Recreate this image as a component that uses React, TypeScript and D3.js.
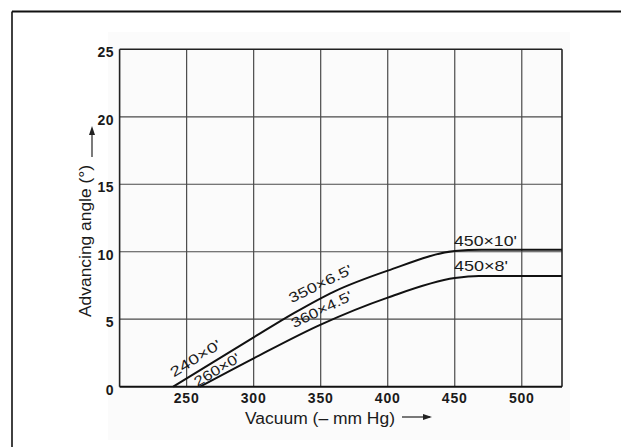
import React from "react";
import * as d3 from "d3";

const xTicks = [250, 300, 350, 400, 450, 500];
const yTicks = [0, 5, 10, 15, 20, 25];
const xDomain = [200, 530];
const yDomain = [0, 25];

// upper curve (240x0' -> 350x6.5' -> 450x10')
const upperX = [240, 300, 330, 360, 400, 450, 470, 530];
const upperY = [0, 3.65, 5.45, 7.05, 8.6, 10.05, 10.15, 10.15];
// lower curve (260x0' -> 360x4.5' -> 450x8')
const lowerX = [260, 300, 350, 400, 450, 468, 530];
const lowerY = [0, 2.1, 4.6, 6.6, 8.05, 8.2, 8.2];

const curveLabels = ["240×0'", "260×0'", "350×6.5'", "360×4.5'", "450×10'", "450×8'"];
const labelX = [258.5, 274.5, 351.3, 352.3, 449.4, 449.4];
const labelY = [1.8, 0.95, 7.3, 5.4, 10.45, 8.55];
const labelAngle = [-32, -31, -26, -26, 0, 0];
const labelLen = [57, 51, 69, 66, 63, 54];

const xTitle = "Vacuum (– mm Hg)";
const yTitle = "Advancing angle (°)";

export default function App() {
  const W = 621, H = 447;
  const x = d3.scaleLinear().domain(xDomain).range([119.6, 562]);
  const y = d3.scaleLinear().domain(yDomain).range([386.7, 49.3]);
  const line = d3
    .line<[number, number]>()
    .x((d) => x(d[0]))
    .y((d) => y(d[1]))
    .curve(d3.curveMonotoneX);
  const upper = upperX.map((v, i) => [v, upperY[i]] as [number, number]);
  const lower = lowerX.map((v, i) => [v, lowerY[i]] as [number, number]);
  const font = "'Liberation Sans', Arial, Helvetica, sans-serif";
  const ink = "#1a1a1a";
  const grid = "#4a4a4a";

  return (
    <svg
      width={W}
      height={H}
      style={{ position: "absolute", left: 0, top: 0, background: "#fff" }}
      fontFamily={font}
    >
      <rect x={0} y={0} width={W} height={H} fill="#fff" />
      <rect x={108} y={32} width={462} height={408} fill="#fbfbfb" />
      {/* outer frame */}
      <line x1={12} x2={W} y1={11.5} y2={11.5} stroke="#111" strokeWidth={1.8} />
      <line x1={12} x2={12} y1={11.5} y2={H} stroke="#111" strokeWidth={1.6} />

      {/* gridlines */}
      {xTicks.map((t) => (
        <line key={"gx" + t} x1={x(t)} x2={x(t)} y1={y(25)} y2={y(0)} stroke={grid} strokeWidth={1.2} />
      ))}
      {yTicks.filter((t) => t > 0 && t < 25).map((t) => (
        <line key={"gy" + t} x1={x(200)} x2={x(530)} y1={y(t)} y2={y(t)} stroke={grid} strokeWidth={1.2} />
      ))}
      {/* plot border */}
      <line x1={x(200)} x2={x(530)} y1={y(25)} y2={y(25)} stroke="#222" strokeWidth={1.5} />
      <line x1={x(530)} x2={x(530)} y1={y(25)} y2={y(0)} stroke="#222" strokeWidth={1.6} />
      <line x1={x(200)} x2={x(200)} y1={y(25)} y2={y(0)} stroke="#222" strokeWidth={1.6} />
      <line x1={x(200)} x2={x(530)} y1={y(0)} y2={y(0)} stroke="#111" strokeWidth={2} />

      {/* curves */}
      <path d={line(upper) || ""} fill="none" stroke="#111" strokeWidth={2} />
      <path d={line(lower) || ""} fill="none" stroke="#111" strokeWidth={2} />

      {/* tick labels */}
      {yTicks.map((t) => (
        <text key={"ty" + t} x={114} y={y(t) + 8} textAnchor="end" fontSize={14} fontWeight={700} fill={ink} letterSpacing={0.5}>
          {t}
        </text>
      ))}
      {xTicks.map((t) => (
        <text key={"tx" + t} x={x(t)} y={403} textAnchor="middle" fontSize={14} fontWeight={700} fill={ink} letterSpacing={0.8}>
          {t}
        </text>
      ))}

      {/* curve labels */}
      {curveLabels.map((s, i) => {
        const px = x(labelX[i]);
        const py = y(labelY[i]);
        const rot = labelAngle[i];
        return rot === 0 ? (
          <text key={s} x={px} y={py} fontSize={14} fill={ink} textLength={labelLen[i]} lengthAdjust="spacingAndGlyphs">
            {s}
          </text>
        ) : (
          <text
            key={s}
            x={0}
            y={0}
            transform={`translate(${px},${py}) rotate(${rot})`}
            textAnchor="middle"
            fontSize={14}
            fill={ink}
            textLength={labelLen[i]}
            lengthAdjust="spacingAndGlyphs"
          >
            {s}
          </text>
        );
      })}

      {/* axis titles */}
      <text x={320} y={424} textAnchor="middle" fontSize={16} fill={ink} textLength={150} lengthAdjust="spacingAndGlyphs">
        {xTitle}
      </text>
      <line x1={402} x2={430} y1={417} y2={417} stroke="#222" strokeWidth={1.2} />
      <path d="M432,417 L423,414 L423,420 Z" fill="#222" />
      <text
        x={0}
        y={0}
        transform={`translate(85,241) rotate(-90)`}
        textAnchor="middle"
        dominantBaseline="central"
        fontSize={16}
        fill={ink}
        textLength={152}
        lengthAdjust="spacingAndGlyphs"
      >
        {yTitle}
      </text>
      <line x1={92} x2={92} y1={157} y2={130} stroke="#222" strokeWidth={1.2} />
      <path d="M92,126 L89,135 L95,135 Z" fill="#222" />
    </svg>
  );
}
